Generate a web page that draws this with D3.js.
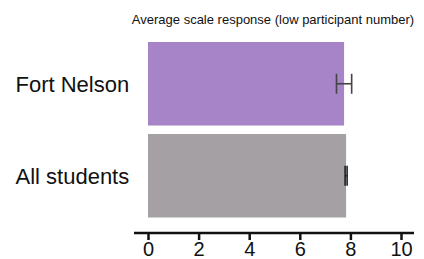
<!DOCTYPE html>
<html>
<head>
<meta charset="utf-8">
<script src="https://cdn.jsdelivr.net/npm/d3@7"></script>
<style>
  body { margin: 0; background: #fff; }
  svg text { font-family: "Liberation Sans", Arial, sans-serif; fill: #111; }
</style>
</head>
<body>
<svg id="chart" width="424" height="259"></svg>
<script>
// data
const groups = ["Fort Nelson", "All students"];
const means = [7.75, 7.83];
const errors = [0.3, 0.04];
const barColors = ["#a784c7", "#a4a0a4"];
const xTicks = [0, 2, 4, 6, 8, 10];

const svg = d3.select("#chart");

const x = d3.scaleLinear().domain([0, 10]).range([148, 401]);
const y = d3.scaleBand().domain(groups).range([42, 217.5]).paddingInner(0.092).paddingOuter(0);

svg.append("text")
   .attr("x", 273)
   .attr("y", 24)
   .attr("text-anchor", "middle")
   .style("font-size", "13px")
   .text("Average scale response (low participant number)");

svg.selectAll("rect.bar")
   .data(groups)
   .enter()
   .append("rect")
   .attr("class", "bar")
   .attr("x", x(0))
   .attr("y", d => y(d))
   .attr("width", (d, i) => x(means[i]) - x(0))
   .attr("height", y.bandwidth())
   .attr("fill", (d, i) => barColors[i]);

// error bars
const eb = svg.selectAll("g.err")
   .data(groups)
   .enter()
   .append("g")
   .attr("class", "err")
   .attr("stroke", (d, i) => i === 0 ? "#444" : "#222")
   .attr("stroke-width", 1.6);

eb.append("line")
  .attr("x1", (d, i) => x(means[i] - errors[i]))
  .attr("x2", (d, i) => x(means[i] + errors[i]))
  .attr("y1", d => y(d) + y.bandwidth() / 2)
  .attr("y2", d => y(d) + y.bandwidth() / 2);

[-1, 1].forEach(s => {
  eb.append("line")
    .attr("x1", (d, i) => x(means[i] + s * errors[i]))
    .attr("x2", (d, i) => x(means[i] + s * errors[i]))
    .attr("y1", d => y(d) + y.bandwidth() / 2 - 10)
    .attr("y2", d => y(d) + y.bandwidth() / 2 + 10);
});

// category labels
svg.selectAll("text.cat")
   .data(groups)
   .enter()
   .append("text")
   .attr("class", "cat")
   .attr("x", 15.5)
   .attr("y", d => y(d) + y.bandwidth() / 2 + 8.5)
   .style("font-size", "22px")
   .text(d => d);

// x axis
const xAxis = d3.axisBottom(x)
                .tickValues(xTicks)
                .tickSize(7)
                .tickPadding(2);

const ax = svg.append("g")
              .attr("transform", "translate(0,233)")
              .call(xAxis);

ax.select(".domain").remove();
ax.append("line")
  .attr("x1", 134)
  .attr("x2", 414)
  .attr("stroke", "#111")
  .attr("stroke-width", 2.5);
ax.selectAll(".tick line").attr("stroke", "#111").attr("stroke-width", 2.5);
ax.selectAll(".tick text")
  .style("font-size", "20px")
  .style("font-family", "'Liberation Sans', Arial, sans-serif")
  .attr("fill", "#111");
</script>
</body>
</html>
